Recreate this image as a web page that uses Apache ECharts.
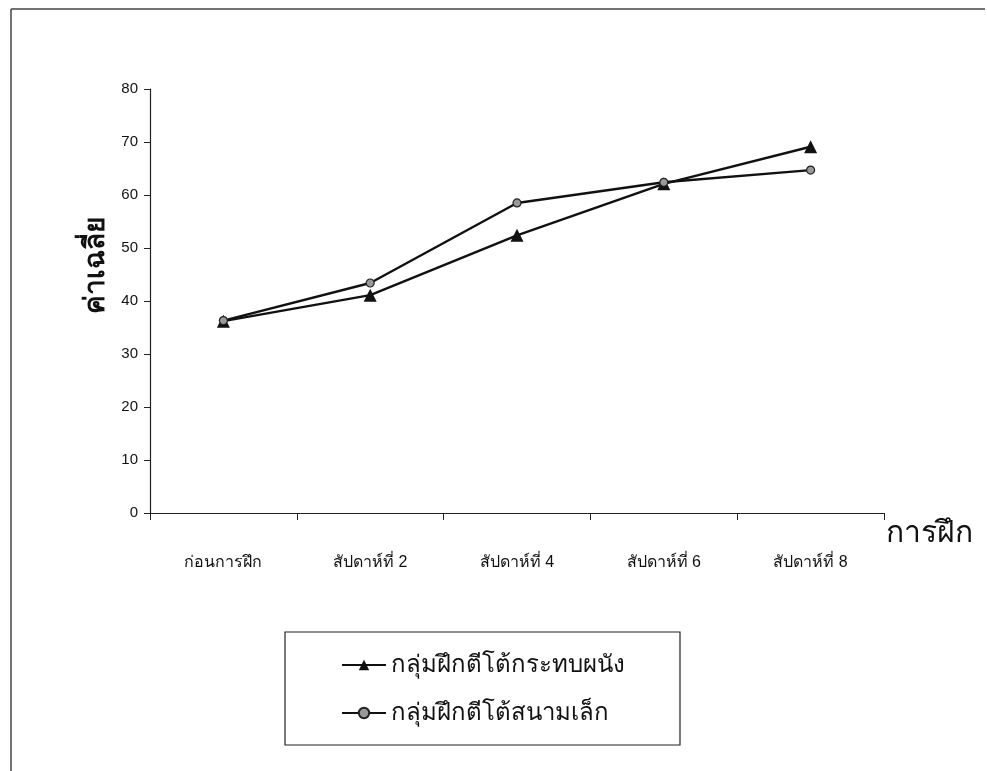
<!DOCTYPE html>
<html>
<head>
<meta charset="utf-8">
<script src="https://cdn.jsdelivr.net/npm/echarts@6/dist/echarts.min.js"></script>
<style>
html,body{margin:0;padding:0;background:#fff;}
#chart{width:987px;height:771px;}
</style>
</head>
<body>
<div id="chart"></div>
<script>
const categories = ['ก่อนการฝึก', 'สัปดาห์ที่ 2', 'สัปดาห์ที่ 4', 'สัปดาห์ที่ 6', 'สัปดาห์ที่ 8'];
const seriesWallName = 'กลุ่มฝึกตีโต้กระทบผนัง';
const seriesWall = [36.2, 41.1, 52.4, 62.1, 69.1];
const seriesCourtName = 'กลุ่มฝึกตีโต้สนามเล็ก';
const seriesCourt = [36.3, 43.4, 58.5, 62.4, 64.7];
const yTitle = 'ค่าเฉลี่ย';
const xTitle = 'การฝึก';

const FONT = 'Liberation Sans, Arial, Noto Sans, sans-serif';
const chart = echarts.init(document.getElementById('chart'));
chart.setOption({
  animation: false,
  backgroundColor: '#fff',
  textStyle: { fontFamily: FONT, color: '#111' },
  grid: { left: 150, top: 89, right: 103, bottom: 258 },
  xAxis: {
    type: 'category',
    data: categories,
    boundaryGap: true,
    axisLine: { lineStyle: { color: '#222', width: 1.2 } },
    axisTick: { show: true, length: 7, inside: false, lineStyle: { color: '#222' } },
    axisLabel: { color: '#111', fontSize: 16, margin: 42, fontFamily: FONT }
  },
  yAxis: {
    type: 'value',
    min: 0, max: 80, interval: 10,
    splitLine: { show: false },
    axisLine: { show: true, lineStyle: { color: '#222', width: 1.2 } },
    axisTick: { show: true, length: 6, lineStyle: { color: '#222' } },
    axisLabel: { color: '#111', fontSize: 15, margin: 12, fontFamily: FONT }
  },
  legend: {
    orient: 'vertical',
    left: 336, top: 648,
    itemWidth: 44, itemHeight: 13,
    itemGap: 24,
    textStyle: { fontSize: 24, color: '#111', fontFamily: FONT },
    data: [seriesWallName, seriesCourtName]
  },
  graphic: [
    { type: 'line', shape: { x1: 11, y1: 9, x2: 985, y2: 9 }, style: { stroke: '#444', lineWidth: 1.5 } },
    { type: 'line', shape: { x1: 11, y1: 9, x2: 11, y2: 771 }, style: { stroke: '#444', lineWidth: 1.5 } },
    { type: 'rect', shape: { x: 285, y: 632, width: 395, height: 113 }, style: { fill: 'none', stroke: '#222', lineWidth: 1.2 } },
    { type: 'text', x: 96, y: 265, rotation: Math.PI / 2,
      style: { text: yTitle, font: 'bold 28px ' + FONT, fill: '#111', textAlign: 'center', textVerticalAlign: 'middle' } },
    { type: 'text', x: 929, y: 534,
      style: { text: xTitle, font: '30px ' + FONT, fill: '#111', textAlign: 'center', textVerticalAlign: 'middle' } }
  ],
  series: [
    {
      name: seriesWallName, type: 'line', data: seriesWall,
      symbol: 'triangle', symbolSize: 13,
      lineStyle: { color: '#111', width: 2.4 },
      itemStyle: { color: '#111' }
    },
    {
      name: seriesCourtName, type: 'line', data: seriesCourt,
      symbol: 'circle', symbolSize: 8,
      lineStyle: { color: '#111', width: 2.4 },
      itemStyle: { color: '#999', borderColor: '#222', borderWidth: 1.2 }
    }
  ]
});
</script>
</body>
</html>
